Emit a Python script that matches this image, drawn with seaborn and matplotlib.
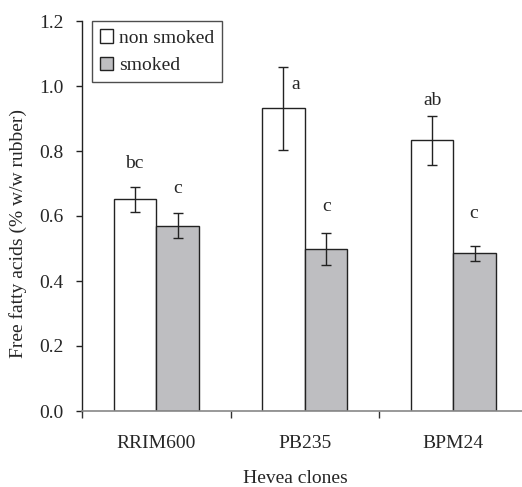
import numpy as np
import matplotlib
matplotlib.use("Agg")
import matplotlib.pyplot as plt
import pandas as pd
import seaborn as sns

clones = ['RRIM600', 'PB235', 'BPM24']
treatments = ['non smoked', 'smoked']
non_smoked = [0.651, 0.931, 0.833]
smoked = [0.570, 0.498, 0.485]
err_non = [0.039, 0.127, 0.076]
err_smk = [0.039, 0.050, 0.024]
letters_non = ['bc', 'a', 'ab']
letters_smk = ['c', 'c', 'c']

df = pd.DataFrame({
    'clone': clones * 2,
    'treatment': [treatments[0]] * 3 + [treatments[1]] * 3,
    'ffa': non_smoked + smoked,
})

sns.set_style('ticks')
plt.rcParams['font.family'] = ['Liberation Serif', 'DejaVu Serif']
plt.rcParams['font.size'] = 14

fig = plt.figure(figsize=(5.22, 4.87), dpi=100)
ax = fig.add_axes([82 / 522, 1 - 411 / 487, 445.5 / 522, 390 / 487])

sns.barplot(data=df, x='clone', y='ffa', hue='treatment', order=clones,
            hue_order=treatments, palette=['white', '#bdbdc1'],
            edgecolor='#222222', linewidth=1.0, width=0.573, errorbar=None,
            ax=ax)

# error bars from the bar patches
bars = [p for p in ax.patches if p.get_height() > 0]
bars = sorted(bars, key=lambda p: p.get_x())
vals = []
for i in range(3):
    vals.append((non_smoked[i], err_non[i]))
    vals.append((smoked[i], err_smk[i]))
for p, (v, e) in zip(bars, vals):
    cx = p.get_x() + p.get_width() / 2
    ax.errorbar(cx, v, yerr=e, fmt='none', ecolor='#222222', elinewidth=1.0,
                capsize=3.3, capthick=1.0)

# significance letters
lab_pos = [(-0.145, 0.763, 'center'), (0.145, 0.686, 'center'),
           (0.91, 1.006, 'left'), (1.15, 0.629, 'center'),
           (1.86, 0.955, 'center'), (2.14, 0.608, 'center')]
letters = [letters_non[0], letters_smk[0], letters_non[1], letters_smk[1],
           letters_non[2], letters_smk[2]]
for (x, y, ha), t in zip(lab_pos, letters):
    ax.text(x, y, t, ha=ha, va='center', fontsize=14)

ax.set_xlim(-0.5, 2.5)
ax.set_ylim(0, 1.2)
ax.set_yticks(np.arange(0, 1.21, 0.2))
ax.set_yticklabels([f'{t:.1f}' for t in np.arange(0, 1.21, 0.2)], fontsize=14)
ax.set_xticks([0, 1, 2])
ax.set_xticklabels(clones, fontsize=14)
ax.set_xticks([-0.5, 0.5, 1.5], minor=True)
ax.tick_params(axis='x', which='major', length=0, pad=17)
ax.tick_params(axis='x', which='minor', length=5, width=1, color='#333333', direction='out')
ax.tick_params(axis='y', length=4.3, width=1, color='#222222', direction='out', pad=9)

sns.despine(ax=ax)
ax.spines['left'].set_color('#222222')
ax.spines['left'].set_linewidth(1.0)
ax.spines['bottom'].set_color('#888888')
ax.spines['bottom'].set_linewidth(1.2)

ax.set_xlabel('Hevea clones', fontsize=14)
ax.xaxis.set_label_coords(0.478, -0.151)
ax.set_ylabel('Free fatty acids (% w/w rubber)', fontsize=14)
ax.yaxis.set_label_coords(-0.123, 0.456)

leg = ax.legend(loc='upper left', bbox_to_anchor=(0.022, 0.999), fontsize=14,
                frameon=True, fancybox=False, handlelength=0.7,
                handleheight=0.7, handletextpad=0.3, borderpad=0.4,
                labelspacing=0.5, borderaxespad=0, title=None)
leg.get_frame().set_edgecolor('#222222')
leg.get_frame().set_linewidth(1.0)

fig.savefig('out.png', dpi=100)
